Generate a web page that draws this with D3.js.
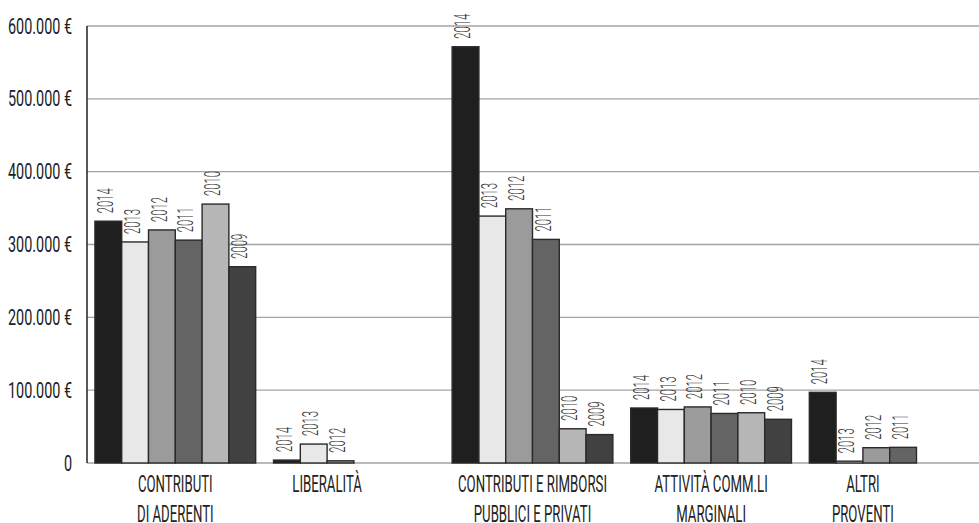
<!DOCTYPE html>
<html>
<head>
<meta charset="utf-8">
<script src="https://cdn.jsdelivr.net/npm/d3@7"></script>
<style>
  body { margin: 0; background: #fff; }
  text { font-family: Roboto, "DejaVu Sans", sans-serif; font-weight: 300; }
</style>
</head>
<body>
<div id="wrapper"></div>
<script>
// Data
const categories = [
    ['CONTRIBUTI', 'DI ADERENTI'],
    ['LIBERALITÀ'],
    ['CONTRIBUTI E RIMBORSI', 'PUBBLICI E PRIVATI'],
    ['ATTIVITÀ COMM.LI', 'MARGINALI'],
    ['ALTRI', 'PROVENTI'],
]
const years = ['2014', '2013', '2012', '2011', '2010', '2009']
const yearColors = ['#1f1f1f', '#e8e8e8', '#9b9b9b', '#646464', '#b6b6b6', '#414141']

const contributiAderenti = [332000, 303500, 320000, 306000, 355500, 269500]
const liberalita = [4000, 26000, 3000]
const contributiRimborsi = [571500, 339000, 349000, 307000, 47000, 39000]
const attivitaCommerciali = [75500, 73500, 77000, 68000, 69000, 60000]
const altriProventi = [97000, 2500, 21000, 21500]

const yTicks = [0, 100000, 200000, 300000, 400000, 500000, 600000]

async function drawChart() {
    const series = [contributiAderenti, liberalita, contributiRimborsi, attivitaCommerciali, altriProventi]

    // Chart Dimensions
    let dimensions = {
        width: 979,
        height: 523,
        margin: {
            top: 26,
            right: 0,
            bottom: 60,
            left: 87,
        },
    }
    dimensions.boundedWidth = dimensions.width
        - dimensions.margin.left
        - dimensions.margin.right
    dimensions.boundedHeight = dimensions.height
        - dimensions.margin.top
        - dimensions.margin.bottom

    // Draw Canvas
    const wrapper = d3.select('#wrapper')
        .append('svg')
            .attr('width', dimensions.width)
            .attr('height', dimensions.height)

    const bounds = wrapper.append('g')
        .attr('transform', `translate(${dimensions.margin.left}, ${dimensions.margin.top})`)

    // the original uses a very condensed display font, so measure a sample
    // string and squeeze every text of that kind by the same ratio
    const ratioFor = (sample, size, weight, width) => {
        const t = wrapper.append('text')
            .attr('font-size', size)
            .style('font-weight', weight)
            .text(sample)
        const k = width / t.node().getComputedTextLength()
        t.remove()
        return k
    }
    const squeeze = (sel, k) => sel.each(function () {
        const len = this.getComputedTextLength()
        d3.select(this)
            .attr('textLength', len * k)
            .attr('lengthAdjust', 'spacingAndGlyphs')
    })
    const yearK = ratioFor('2014', 22, 300, 25)
    const tickK = ratioFor('600.000 €', 22, 400, 64)
    const catK = ratioFor('CONTRIBUTI E RIMBORSI', 23, 400, 149)

    // Scales
    const x0 = d3.scaleBand()
        .domain(d3.range(categories.length))
        .range([-1, dimensions.boundedWidth])
        .paddingInner(0.1)
        .paddingOuter(0.05)

    const x1 = d3.scaleBand()
        .domain(years)
        .range([0, x0.bandwidth()])

    const yScale = d3.scaleLinear()
        .domain([0, 600000])
        .range([dimensions.boundedHeight, 0])

    const color = d3.scaleOrdinal()
        .domain(years)
        .range(yearColors)

    // Grid
    bounds.append('g')
        .selectAll('line')
        .data(yTicks)
        .join('line')
            .attr('x1', 0)
            .attr('x2', dimensions.boundedWidth)
            .attr('y1', d => yScale(d))
            .attr('y2', d => yScale(d))
            .attr('stroke', '#a3a3a3')
            .attr('stroke-width', 1.3)

    // Y axis
    const yAxisGenerator = d3.axisLeft()
        .scale(yScale)
        .tickValues(yTicks)
        .tickSize(0)
        .tickPadding(15)
        .tickFormat(d => d === 0 ? '0' : d3.format(',')(d).replace(/,/g, '.') + ' €')

    const yAxis = bounds.append('g')
        .call(yAxisGenerator)
    yAxis.select('.domain').remove()
    yAxis.selectAll('text')
        .attr('font-size', 22)
        .attr('font-family', null)
        .style('font-weight', 400)
        .attr('fill', '#222')
        .call(squeeze, tickK)

    bounds.append('line')
        .attr('x1', 0)
        .attr('x2', 0)
        .attr('y1', 0)
        .attr('y2', dimensions.boundedHeight)
        .attr('stroke', '#222')
        .attr('stroke-width', 1.5)

    // Bars
    const groups = bounds.selectAll('.group')
        .data(series)
        .join('g')
            .attr('class', 'group')
            .attr('transform', (d, i) => `translate(${x0(i)}, 0)`)

    const bars = groups.selectAll('.bar')
        .data(vals => vals.map((v, j) => ({ year: years[j], value: v })))
        .join('g')
            .attr('class', 'bar')

    bars.append('rect')
        .attr('x', d => x1(d.year))
        .attr('width', x1.bandwidth())
        .attr('y', d => yScale(d.value))
        .attr('height', d => dimensions.boundedHeight - yScale(d.value))
        .attr('fill', d => color(d.year))
        .attr('stroke', '#2a2a2a')
        .attr('stroke-width', 1.4)

    bars.append('text')
        .attr('transform', d => `translate(${x1(d.year) + 18}, ${yScale(d.value) - 8}) rotate(-90)`)
        .attr('font-size', 22)
        .attr('fill', '#333')
        .text(d => d.year)
        .call(squeeze, yearK)

    // Category labels
    const labels = groups.append('text')
        .attr('text-anchor', 'middle')
        .attr('font-size', 23)
        .style('font-weight', 400)
        .attr('fill', '#222')
        .attr('transform', d => `translate(${Math.max(d.length, 4) * x1.bandwidth() / 2}, ${dimensions.boundedHeight + 29})`)

    labels.selectAll('tspan')
        .data((d, i) => categories[i])
        .join('tspan')
            .attr('x', 0)
            .attr('dy', (d, i) => i === 0 ? 0 : 30)
            .text(d => d)

    labels.selectAll('tspan').call(squeeze, catK)
}
drawChart()
</script>
</body>
</html>
